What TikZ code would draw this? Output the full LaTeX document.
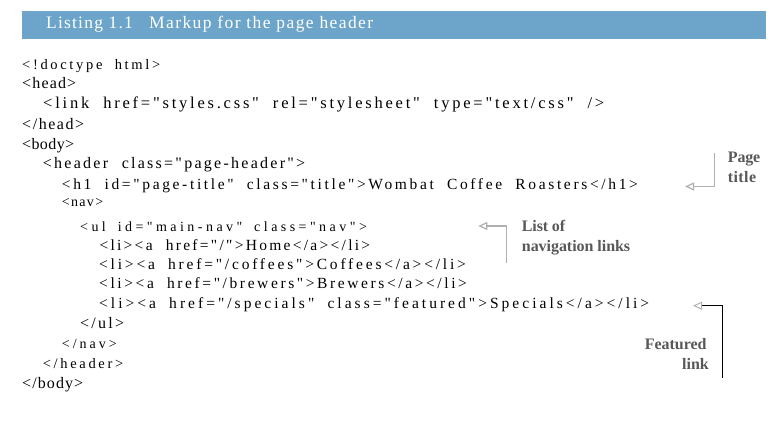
\documentclass[tikz,border=0pt]{standalone}
\usepackage{fontspec}
\setmainfont{Liberation Serif}[Ligatures=TeXOff]
\usetikzlibrary{arrows.meta}
\definecolor{barblue}{HTML}{6CA5C9}
\definecolor{anngray}{HTML}{585858}
\definecolor{arrgray}{HTML}{B0B0B0}
\newsavebox\fitboxA
\newsavebox\fitboxB
\newcommand\fitline[2]{%
  \sbox\fitboxA{#2}%
  \sbox\fitboxB{\addfontfeatures{LetterSpace=10}#2}%
  \pgfmathsetmacro\fitls{10*(#1-\the\wd\fitboxA)/(\the\wd\fitboxB-\the\wd\fitboxA)}%
  {\addfontfeatures{LetterSpace=\fitls}#2}}
\newcommand\codeln[2]{{\spaceskip=0.85em\relax\fitline{#1}{#2}}}
\tikzset{
  code/.style={anchor=base west, inner sep=0pt, text=black,
    font={\fontsize{#1}{18}\selectfont}},
  code/.default=15,
  ttl/.style={anchor=base west, inner sep=0pt, font=\fontsize{17.5}{20}\selectfont, text=white},
  ann/.style={anchor=base west, inner sep=0pt, font=\fontsize{16}{18}\selectfont\bfseries, text=anngray},
  annr/.style={ann, anchor=base east},
  lead/.style={line width=1.2pt, draw=arrgray, -{Triangle[open,length=9pt,width=8pt]}},
  leadk/.style={line width=1pt, draw=black, -{Triangle[open,length=9pt,width=8pt,color=arrgray]}},
  bar/.style={fill=barblue, draw=none, inner sep=0pt, minimum width=744pt, minimum height=28pt, anchor=north west}
}
\begin{document}
\begin{tikzpicture}[x=1pt,y=-1pt]
\useasboundingbox (0,0) rectangle (772,443);
% title bar
\node[bar] (bar) at (22,11) {};
\node[ttl] (t1) at (46,28.3) {\fitline{86.7}{Listing 1.1}};
\node[ttl] (t2) at (149,28.3) {\fitline{224}{Markup for the page header}};
% code
\node[code=14.5] (c1) at (22,69.3) {\codeln{138}{<!doctype html>}};
\node[code=16] (c2) at (22,88.5) {\codeln{54}{<head>}};
\node[code=16.5] (c3) at (43,109) {\codeln{561}{<link href="styles.css" rel="stylesheet" type="text/css" />}};
\node[code=16] (c4) at (22,129.5) {\codeln{62}{</head>}};
\node[code=16] (c5) at (22,149.5) {\codeln{52}{<body>}};
\node[code=16] (c6) at (42.7,169) {\codeln{262.3}{<header class="page-header">}};
\node[code=15.5] (c7) at (61.7,190) {\codeln{576}{<h1 id="page-title" class="title">Wombat Coffee Roasters</h1>}};
\node[code=14] (c8) at (61.7,207) {\codeln{41.3}{<nav>}};
\node[code=14] (c9) at (80,231.5) {\codeln{286.7}{<ul id="main-nav" class="nav">}};
\node[code=15.5] (c10) at (99.3,251) {\codeln{270.7}{<li><a href="/">Home</a></li>}};
\node[code=15.5] (c11) at (99,270) {\codeln{366.7}{<li><a href="/coffees">Coffees</a></li>}};
\node[code=15.5] (c12) at (99,289) {\codeln{367.7}{<li><a href="/brewers">Brewers</a></li>}};
\node[code=15.5] (c13) at (99,309) {\codeln{550}{<li><a href="/specials" class="featured">Specials</a></li>}};
\node[code=16] (c14) at (80,329) {\codeln{44}{</ul>}};
\node[code=14] (c15) at (61.7,349) {\codeln{55}{</nav>}};
\node[code=14.5] (c16) at (42.7,369) {\codeln{80.3}{</header>}};
\node[code=16] (c17) at (22,389) {\codeln{61}{</body>}};
% annotations
\node[ann] (a1) at (727.7,163) {\fitline{32.3}{Page}};
\node[ann] (a2) at (727.7,183) {\fitline{28.3}{title}};
\node[ann] (b1) at (521.7,231.7) {\fitline{43.3}{List of}};
\node[ann] (b2) at (521.7,251.7) {\fitline{108.3}{navigation links}};
\node[annr] (f1) at (706.7,350) {\fitline{61.7}{Featured}};
\node[annr] (f2) at (709,369.3) {\fitline{26.7}{link}};
% leaders
\coordinate (pS) at (714.3,153.3);
\coordinate (pE) at (685,186.5);
\draw[lead] (pS) |- (pE);
\coordinate (lS) at (506.7,262.7);
\coordinate (lE) at (478.3,226);
\draw[lead] (lS) |- (lE);
\coordinate (fS) at (722.7,378);
\coordinate (fE) at (693,305.7);
\draw[leadk] (fS) |- (fE);
\end{tikzpicture}
\end{document}
